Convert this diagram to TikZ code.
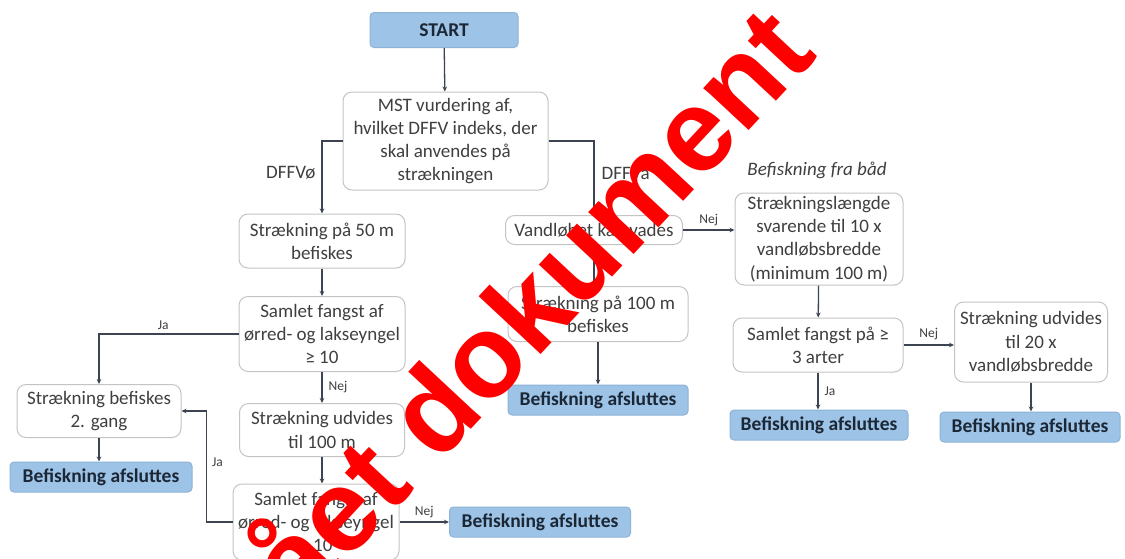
\documentclass[tikz,border=0pt]{standalone}
\usepackage{fontspec}
\setmainfont{Carlito}
\newfontfamily\wmfont{Liberation Sans}
\usetikzlibrary{arrows.meta}
\definecolor{bluefill}{HTML}{9DC3E6}
\definecolor{bluedraw}{HTML}{8DB3D8}
\definecolor{boxgray}{HTML}{C4C4C4}
\definecolor{txtgray}{HTML}{3F3F3F}
\definecolor{navy}{HTML}{1C2736}
\definecolor{linecol}{HTML}{3C4452}
\definecolor{wmred}{HTML}{FF0000}
\tikzset{
  wbox/.style={draw=boxgray, line width=1pt, rounded corners=9pt, fill=white, text=txtgray,
    align=center, inner sep=0pt, font=\fontsize{19}{23.3}\selectfont},
  bbox/.style={draw=bluedraw, line width=1pt, rounded corners=4pt, fill=bluefill, text=navy,
    align=center, inner sep=0pt, font=\bfseries\fontsize{19.5}{22}\selectfont,
    minimum height=30pt, minimum width=180pt},
  arr/.style={draw=linecol, line width=1.3pt, -{Stealth[length=5pt,width=4.5pt]}},
  lbl/.style={text=txtgray, font=\fontsize{13.5}{15}\selectfont, inner sep=1pt},
  dlbl/.style={text=txtgray, font=\fontsize{19}{21}\selectfont, inner sep=1pt},
}
\begin{document}
\begin{tikzpicture}[x=1pt,y=-1pt]
\useasboundingbox (0,0) rectangle (1125,558);
\fill[white] (0,0) rectangle (1125,558);

% nodes
\node[bbox, minimum width=148pt, minimum height=35pt] (start) at (444,30) {START};
\node[wbox, minimum width=205pt, minimum height=98pt] (mst) at (445.5,141)
  {MST vurdering af,\\hvilket DFFV indeks, der\\skal anvendes på\\strækningen};
\node[wbox, minimum width=166pt, minimum height=54pt] (s50) at (322,241)
  {Strækning på 50 m\\befiskes};
\node[wbox, minimum width=166pt, minimum height=75pt] (f1) at (322,334)
  {Samlet fangst af\\ørred- og lakseyngel\\≥ 10};
\node[wbox, minimum width=164pt, minimum height=53pt] (b2) at (99,411)
  {Strækning befiskes\\2. gang};
\node[bbox, minimum width=182pt] (e1) at (101,477) {Befiskning afsluttes};
\node[wbox, minimum width=165pt, minimum height=53pt] (u100) at (322,430)
  {Strækning udvides\\til 100 m};
\node[wbox, minimum width=166pt, minimum height=76pt] (f2) at (316,522)
  {Samlet fangst af\\ørred- og lakseyngel\\≥ 10};
\node[bbox, minimum width=181pt] (e2) at (540,522) {Befiskning afsluttes};
\node[wbox, minimum width=177pt, minimum height=29pt] (vand) at (594,230)
  {Vandløbet kan vades};
\node[wbox, minimum width=180pt, minimum height=55pt] (s100) at (598,314)
  {Strækning på 100 m\\befiskes};
\node[bbox, minimum width=180pt] (e3) at (598,400) {Befiskning afsluttes};
\node[text=txtgray, font=\itshape\fontsize{19}{21}\selectfont, inner sep=1pt] (boat) at (817,170)
  {Befiskning fra båd};
\node[wbox, minimum width=168pt, minimum height=92pt] (sl) at (819,239)
  {Strækningslængde\\svarende til 10 x\\vandløbsbredde\\(minimum 100 m)};
\node[wbox, minimum width=170pt, minimum height=54pt] (f3) at (818,345)
  {Samlet fangst på ≥\\3 arter};
\node[wbox, minimum width=153pt, minimum height=80pt] (u20) at (1031,342)
  {Strækning udvides\\til 20 x\\vandløbsbredde};
\node[bbox, minimum width=178pt] (e4) at (819,425) {Befiskning afsluttes};
\node[bbox, minimum width=180pt] (e5) at (1030,427) {Befiskning afsluttes};

% connectors
\draw[arr] (start) -- (mst);
\draw[arr] (mst.west) -| (s50.north) node[dlbl, pos=0.72, left=5pt] {DFFVø};
\draw[arr] (mst.east) -| (vand.north) node[dlbl, pos=0.72, right=6pt] {DFFVa};
\draw[arr] (vand.south) -- (vand.south |- s100.north);
\draw[arr] (vand.east) -- (vand.east -| sl.west) node[lbl, midway, above=3pt] {Nej};
\draw[arr] (s50) -- (f1);
\draw[arr] (f1.west) -| (b2.north) node[lbl, pos=0.27, above=3pt] {Ja};
\draw[arr] (f1.south) -- (u100.north) node[lbl, midway, right=5pt] {Nej};
\draw[arr] (b2.south) -- (b2.south |- e1.north);
\draw[arr] (u100.south) -- (u100.south |- f2.north);
\draw[arr] (f2.west) -- ++(-26,0) coordinate (c1) |- (b2.east) node[lbl, pos=0.27, right=4pt] {Ja};
\draw[arr] (f2.east) -- (e2.west) node[lbl, midway, above=3pt] {Nej};
\draw[arr] (s100.south) -- (s100.south |- e3.north);
\draw[arr] (sl) -- (f3);
\draw[arr] (f3.east) -- (f3.east -| u20.west) node[lbl, midway, above=4pt] {Nej};
\draw[arr] (f3.south) -- (f3.south |- e4.north) node[lbl, midway, right=5pt] {Ja};
\draw[arr] (u20.south) -- (u20.south |- e5.north);

% watermark
\begin{scope}
\clip (0,0) rectangle (1125,558);
\node[text=wmred, font=\wmfont\bfseries\fontsize{117}{117}\selectfont, rotate=47, anchor=base, inner sep=0pt] (wm) at (560,334) {ået dokument};
\end{scope}
\end{tikzpicture}
\end{document}
